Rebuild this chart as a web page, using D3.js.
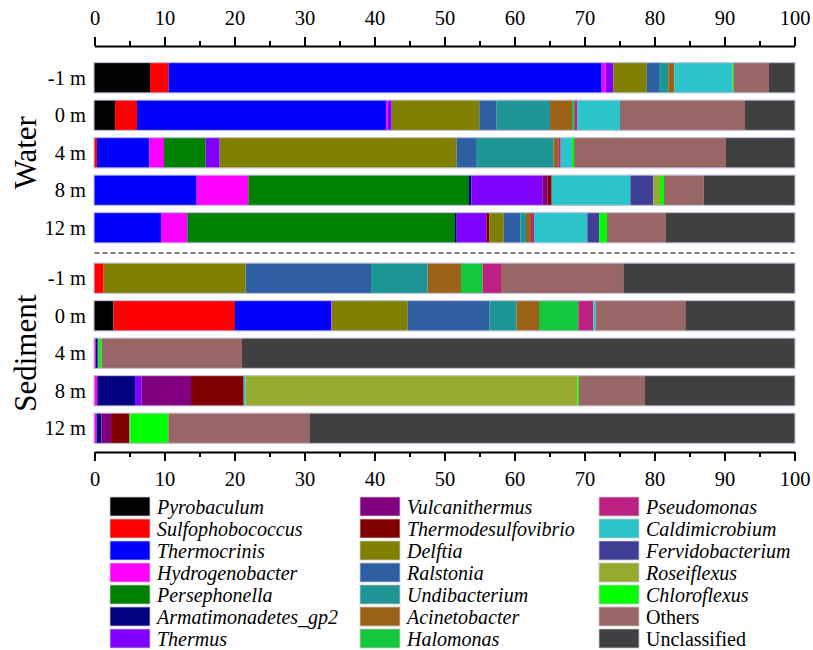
<!DOCTYPE html>
<html>
<head>
<meta charset="utf-8">
<script src="https://cdn.jsdelivr.net/npm/d3@7"></script>
<style>
  html, body { margin: 0; padding: 0; background: #fff; }
  svg { display: block; }
  svg text { font-family: "Liberation Serif", "Times New Roman", Times, "Nimbus Roman", "DejaVu Serif", serif; }
</style>
</head>
<body>
<svg id="chart" width="813" height="650"></svg>
<script>
// ---------------- DATA ----------------
const taxa = ["Pyrobaculum","Sulfophobococcus","Thermocrinis","Hydrogenobacter","Persephonella",
  "Armatimonadetes_gp2","Thermus","Vulcanithermus","Thermodesulfovibrio","Delftia","Ralstonia",
  "Undibacterium","Acinetobacter","Halomonas","Pseudomonas","Caldimicrobium","Fervidobacterium",
  "Roseiflexus","Chloroflexus","Others","Unclassified"];
const taxaColors = ["#000000","#ff0000","#0000ff","#ff00ff","#008000","#000080","#8000ff","#800080",
  "#800000","#808000","#2e5fa3","#1f9696","#9c6318","#14c83c","#bc2080","#2bc4ca","#3f3f96",
  "#95ab2e","#00ff00","#996666","#404040"];
const italicTaxa = taxa.slice(0, 19);

const groups = ["Water", "Sediment"];
const depths = ["-1 m", "0 m", "4 m", "8 m", "12 m"];

// values per taxon (same order as taxa) for each sample
const waterM1  = [7.93,2.67,61.86,0.57,0,0,1.07,0,0,4.8,1.74,1.33,0.86,0,0,8.28,0,0,0.15,5.1,3.64];
const water0   = [2.93,3.14,35.57,0.26,0,0,0.56,0,0,12.51,2.48,7.62,3.14,0.34,0.45,6.07,0,0,0,17.86,7.07];
const water4   = [0,0.35,7.48,2.1,5.95,0,2.0,0,0,33.86,2.76,11.1,0.66,0,0.34,1.61,0,0,0.29,21.71,9.79];
const water8   = [0,0,14.6,7.37,31.53,0.33,10.14,0.72,0.62,0,0,0,0,0,0,11.24,3.28,0.96,0.57,5.66,12.98];
const water12  = [0,0,9.5,3.76,38.24,0.24,4.23,0,0.43,2.05,2.38,0.81,0.72,0,0.43,7.61,1.71,0,1.1,8.43,18.36];
const sedM1    = [0,1.31,0,0,0,0,0,0,0,20.29,17.9,8.1,4.76,3.09,2.62,0,0,0,0,17.48,24.45];
const sed0     = [2.69,17.38,13.72,0.1,0,0,0,0,0,10.85,11.71,3.86,3.19,5.62,2.14,0.34,0,0,0,12.8,15.6];
const sed4     = [0,0,0,0.15,0,0.3,0.12,0,0,0,0,0,0,0,0,0,0,0,0.45,20.05,78.93];
const sed8     = [0,0,0,0.4,0,5.39,0.95,7.05,7.52,0,0,0,0,0,0,0.29,0,47.38,0.22,9.44,21.36];
const sed12    = [0,0,0,0.3,0,0.68,0,1.38,2.57,0,0,0,0,0,0,0,0,0.2,5.42,20.14,69.31];

const waterValues = [waterM1, water0, water4, water8, water12];
const sedValues   = [sedM1, sed0, sed4, sed8, sed12];

const xTicks = [0,10,20,30,40,50,60,70,80,90,100];
const xMinorTicks = [5,15,25,35,45,55,65,75,85,95];

// ---------------- DRAW ----------------
const svg = d3.select("#chart");
const x = d3.scaleLinear().domain([0, 100]).range([94.5, 794.5]);
const color = d3.scaleOrdinal().domain(taxa).range(taxaColors);

const yWater = d3.scaleBand().domain(depths).range([59, 246.5]).paddingInner(0.22).paddingOuter(0.11);
const ySed   = d3.scaleBand().domain(depths).range([259.5, 447]).paddingInner(0.22).paddingOuter(0.11);

function toRows(valuesArr) {
  return depths.map((d, i) => {
    const o = { depth: d };
    taxa.forEach((t, j) => o[t] = valuesArr[i][j]);
    return o;
  });
}
const stack = d3.stack().keys(taxa);

function drawGroup(valuesArr, y, label) {
  const g = svg.append("g");
  const series = stack(toRows(valuesArr));
  g.selectAll("rect.outline").data(depths).join("rect")
    .attr("class", "outline")
    .attr("x", x(0) - 0.5).attr("width", x(100) - x(0) + 1)
    .attr("y", d => y(d) - 0.5).attr("height", y.bandwidth() + 1)
    .attr("fill", "none").attr("stroke", "#b4b4d8").attr("stroke-width", 1);
  g.selectAll("g.series").data(series).join("g")
    .attr("fill", s => color(s.key))
    .selectAll("rect").data(s => s).join("rect")
    .attr("x", d => x(d[0]))
    .attr("width", d => Math.max(0, x(d[1]) - x(d[0])))
    .attr("y", d => y(d.data.depth))
    .attr("height", y.bandwidth());
  g.selectAll("text.row").data(depths).join("text")
    .attr("x", 86).attr("y", d => y(d) + y.bandwidth() / 2)
    .attr("dy", "0.35em").attr("text-anchor", "end")
    .attr("font-size", 20.5)
    .text(d => d);
  const [r0, r1] = y.range();
  const cy = (r0 + r1) / 2;
  g.append("text")
    .attr("transform", `translate(36,${cy}) rotate(-90)`)
    .attr("text-anchor", "middle")
    .attr("font-size", 31)
    .text(label);
}
drawGroup(waterValues, yWater, groups[0]);
drawGroup(sedValues, ySed, groups[1]);

svg.append("line")
  .attr("x1", x(0)).attr("x2", x(100)).attr("y1", 253).attr("y2", 253)
  .attr("stroke", "#000").attr("stroke-width", 1.2).attr("stroke-dasharray", "5,3");

function drawAxis(axisGen, yPos, isTop) {
  const gMaj = svg.append("g").attr("transform", `translate(0,${yPos})`)
    .call(axisGen(x).tickValues(xTicks).tickSize(9).tickSizeOuter(0).tickPadding(isTop ? 12 : 10).tickFormat(d3.format("d")));
  gMaj.attr("font-family", null);
  gMaj.select(".domain").attr("stroke-width", 2);
  gMaj.selectAll(".tick line").attr("stroke-width", 2);
  gMaj.selectAll("text").attr("font-size", 20.5).attr("fill", "#000");
  const gMin = svg.append("g").attr("transform", `translate(0,${yPos})`)
    .call(axisGen(x).tickValues(xMinorTicks).tickSize(5).tickSizeOuter(0).tickFormat(""));
  gMin.select(".domain").remove();
  gMin.selectAll(".tick line").attr("stroke-width", 2);
}
drawAxis(d3.axisTop, 46, true);
drawAxis(d3.axisBottom, 452, false);

const legendCols = [110, 360, 599];
const leg = svg.append("g");
taxa.forEach((t, i) => {
  const col = Math.floor(i / 7), row = i % 7;
  const lx = legendCols[col], ly = 497 + row * 22;
  leg.append("rect").attr("x", lx).attr("y", ly).attr("width", 40).attr("height", 19)
    .attr("fill", color(t)).attr("stroke", "#c8c8c8").attr("stroke-width", 0.8);
  leg.append("text").attr("x", lx + 47).attr("y", ly + 10).attr("dy", "0.33em")
    .attr("font-size", 20)
    .attr("font-style", italicTaxa.includes(t) ? "italic" : "normal")
    .text(t);
});
</script>
</body>
</html>
